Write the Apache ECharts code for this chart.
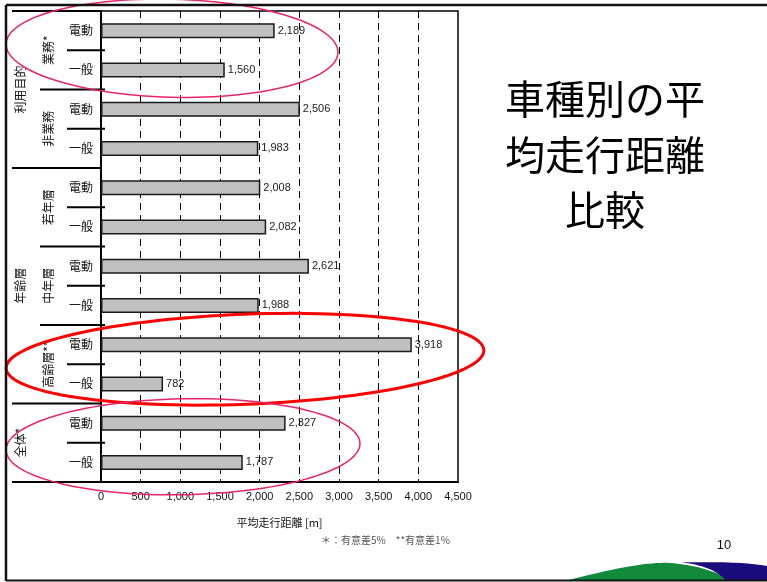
<!DOCTYPE html>
<html>
<head>
<meta charset="utf-8">
<script src="https://cdn.jsdelivr.net/npm/echarts@6/dist/echarts.min.js"></script>
<style>
  html, body { margin: 0; padding: 0; background: #fff; }
  #chart { width: 767px; height: 582px; }
</style>
</head>
<body>
<div id="chart"></div>
<script>
// Average travel distance per vehicle type, grouped by purpose / age band / overall
const rowTypes = ['電動', '一般', '電動', '一般', '電動', '一般', '電動', '一般', '電動', '一般', '電動', '一般'];
const distances = [2189, 1560, 2506, 1983, 2008, 2082, 2621, 1988, 3918, 782, 2327, 1787];
const subgroupNames = ['業務*', '非業務', '若年層', '中年層', '高齢層**'];
const subgroupFirstRow = [0, 2, 4, 6, 8];
const subgroupRowCount = [2, 2, 2, 2, 2];
const groupNames = ['利用目的', '年齢層', '全体*'];
const groupFirstRow = [0, 4, 10];
const groupRowCount = [4, 6, 2];
const xMin = 0, xMax = 4500, xStep = 500;
const titleLines = ['車種別の平', '均走行距離', '比較'];
const axisTitle = '平均走行距離 [m]';
const footnote = '＊：有意差5%　**有意差1%';
const pageNumber = '10';

const rowIds = rowTypes.map((t, i) => i + ':' + t);
const fmt = v => Number(v).toLocaleString('en-US');
const LATIN = '"Liberation Sans", Arial, sans-serif';
const CJK = '"Noto Sans CJK JP", sans-serif';

const chart = echarts.init(document.getElementById('chart'), null, { renderer: 'canvas' });

chart.setOption({
  backgroundColor: '#ffffff',
  animation: false,
  grid: {
    left: 101, right: 309, top: 11, bottom: 100,
    show: true, borderColor: '#000', borderWidth: 1.5, backgroundColor: 'transparent'
  },
  xAxis: {
    type: 'value',
    min: xMin, max: xMax, interval: xStep,
    axisLine: { show: true, lineStyle: { color: '#000', width: 2 } },
    axisTick: { show: false },
    axisLabel: { color: '#111', fontSize: 11, fontFamily: LATIN, margin: 9, formatter: fmt },
    splitLine: {
      show: true, showMinLine: false, showMaxLine: false,
      lineStyle: { color: '#000', width: 1, type: [7, 5] }
    },
    name: axisTitle,
    nameLocation: 'middle',
    nameGap: 35,
    nameTextStyle: { color: '#111', fontSize: 11, fontFamily: CJK }
  },
  yAxis: {
    type: 'category',
    data: rowIds,
    inverse: true,
    axisLine: { show: true, lineStyle: { color: '#000', width: 2 } },
    axisTick: { show: false },
    splitLine: { show: false },
    axisLabel: {
      color: '#111', fontSize: 12, fontFamily: CJK, margin: 8,
      formatter: v => v.split(':')[1]
    }
  },
  series: [{
    type: 'bar',
    data: distances,
    barWidth: 15,
    itemStyle: { color: '#c0c0c0', borderColor: '#1a1a1a', borderWidth: 1.5 },
    label: {
      show: true, position: 'right', distance: 3,
      color: '#222', fontSize: 11, fontFamily: LATIN,
      formatter: p => fmt(p.value)
    }
  }]
});

// Decorations that depend on the category layout
function ellipsePoints(cx, cy, rx, ry, angleDeg) {
  const a = angleDeg * Math.PI / 180, pts = [];
  for (let i = 0; i < 120; i++) {
    const t = i / 120 * Math.PI * 2;
    const ex = rx * Math.cos(t), ey = ry * Math.sin(t);
    pts.push([cx + ex * Math.cos(a) - ey * Math.sin(a), cy + ex * Math.sin(a) + ey * Math.cos(a)]);
  }
  return pts;
}

function buildGraphics() {
  const c0 = chart.convertToPixel({ yAxisIndex: 0 }, rowIds[0]);
  const c1 = chart.convertToPixel({ yAxisIndex: 0 }, rowIds[1]);
  const band = c1 - c0;
  const edge = k => c0 + (k - 0.5) * band;
  const plotLeft = chart.convertToPixel({ xAxisIndex: 0 }, xMin);
  const g = [];

  // row separators: long for groups, medium for subgroups, short otherwise
  for (let k = 0; k <= rowTypes.length; k++) {
    let x0, x1 = plotLeft + 4;
    if (k === rowTypes.length || groupFirstRow.includes(k)) { x0 = 12; x1 = plotLeft; }
    else if (subgroupFirstRow.includes(k)) x0 = 40;
    else x0 = 67;
    g.push({ type: 'line', shape: { x1: x0, y1: edge(k), x2: x1, y2: edge(k) },
      style: { stroke: '#000', lineWidth: 2 }, z: 10 });
  }

  const vLabel = (text, x, y) => ({
    type: 'text', x: x, y: y, rotation: Math.PI / 2,
    style: { text: text, fill: '#111', font: '12px ' + CJK, align: 'center', verticalAlign: 'middle' },
    z: 10
  });
  subgroupNames.forEach((n, i) => {
    g.push(vLabel(n, 48, edge(subgroupFirstRow[i] + subgroupRowCount[i] / 2)));
  });
  groupNames.forEach((n, i) => {
    g.push(vLabel(n, 20, edge(groupFirstRow[i] + groupRowCount[i] / 2)));
  });

  // highlight ellipses
  const rowsMid = (a, b) => (edge(a) + edge(b + 1)) / 2;
  [
    { cx: 172, cy: rowsMid(0, 1) - 2, rx: 166, ry: 49, ang: 1.5, color: '#e8246c', w: 1.5 },
    { cx: 245, cy: rowsMid(8, 9) - 5, rx: 239, ry: 45, ang: -2.2, color: '#ff0000', w: 3 },
    { cx: 183, cy: rowsMid(10, 11) + 4, rx: 177, ry: 48, ang: -1.1, color: '#e8246c', w: 1.5 }
  ].forEach(e => {
    g.push({ type: 'polygon', shape: { points: ellipsePoints(e.cx, e.cy, e.rx, e.ry, e.ang) },
      style: { fill: 'none', stroke: e.color, lineWidth: e.w }, z: 20 });
  });

  // slide frame
  g.push({ type: 'line', shape: { x1: 6, y1: 5, x2: 767, y2: 5 }, style: { stroke: '#111', lineWidth: 2.5 }, z: 30 });
  g.push({ type: 'line', shape: { x1: 6, y1: 5, x2: 6, y2: 581 }, style: { stroke: '#111', lineWidth: 2.5 }, z: 30 });
  g.push({ type: 'line', shape: { x1: 6, y1: 580.5, x2: 767, y2: 580.5 }, style: { stroke: '#111', lineWidth: 2 }, z: 30 });

  // title
  titleLines.forEach((t, i) => {
    g.push({ type: 'text', x: 605, y: 99 + i * 55.5,
      style: { text: t, fill: '#000', font: '40px ' + CJK, align: 'center', verticalAlign: 'middle' }, z: 10 });
  });

  // footnote and page number
  g.push({ type: 'text', x: 321, y: 540,
    style: { text: footnote, fill: '#555', font: '10px ' + CJK, align: 'left', verticalAlign: 'middle' }, z: 10 });
  g.push({ type: 'text', x: 724, y: 545,
    style: { text: pageNumber, fill: '#111', font: '13px ' + LATIN, align: 'center', verticalAlign: 'middle' }, z: 10 });

  // corner logo swooshes
  const quad = (p0, p1, p2, n) => {
    const out = [];
    for (let i = 0; i <= n; i++) {
      const t = i / n;
      out.push([(1 - t) * (1 - t) * p0[0] + 2 * t * (1 - t) * p1[0] + t * t * p2[0],
                (1 - t) * (1 - t) * p0[1] + 2 * t * (1 - t) * p1[1] + t * t * p2[1]]);
    }
    return out;
  };
  const green = quad([565, 581], [640, 561], [670, 563], 20)
    .concat(quad([670, 563], [708, 566], [732, 581], 20));
  g.push({ type: 'polygon', shape: { points: green }, style: { fill: '#13893b' }, z: 25 });
  const navy = quad([682, 562.5], [740, 561], [767, 566], 20)
    .concat([[767, 581], [726, 581]])
    .concat(quad([726, 581], [714, 566], [682, 562.5], 20));
  g.push({ type: 'polygon', shape: { points: navy }, style: { fill: '#1b0c7e' }, z: 25 });

  chart.setOption({ graphic: g });
}
buildGraphics();
</script>
</body>
</html>
